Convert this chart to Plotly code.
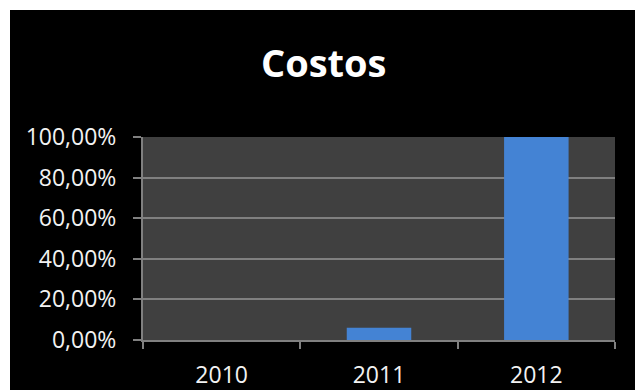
import plotly.graph_objects as go

# Data
years = ["2010", "2011", "2012"]
costos = [0.0, 0.06, 1.0]
y_ticks = [0, 0.2, 0.4, 0.6, 0.8, 1.0]

W, H = 635, 390
L, R, T, B = 143, 20, 137, 50

fig = go.Figure()
fig.add_trace(go.Bar(
    x=years,
    y=costos,
    marker=dict(color="#4483d4", line=dict(width=0)),
))

grey = "#808080"
fig.update_layout(
    width=W, height=H,
    margin=dict(l=L, r=R, t=T, b=B, pad=0, autoexpand=False),
    paper_bgcolor="black",
    plot_bgcolor="#404040",
    separators=",.",
    bargap=0.59,
    showlegend=False,
    font=dict(family="Open Sans", color="#f2f2f2", size=23),
    title=dict(
        text="<b>Costos</b>",
        font=dict(family="Open Sans", size=38, color="white"),
        x=323.7 / W, xanchor="center", xref="container",
        y=1 - 64 / H, yanchor="middle", yref="container",
    ),
    xaxis=dict(
        type="category",
        tickson="boundaries",
        ticks="outside", ticklen=7, tickwidth=2, tickcolor=grey,
        showline=True, linecolor=grey, linewidth=2,
        showgrid=False,
        automargin=False,
        ticklabelstandoff=13,
        tickfont=dict(size=23),
    ),
    yaxis=dict(
        range=[0, 1.0],
        tickvals=y_ticks,
        tickformat=".2%",
        ticks="outside", ticklen=8, tickwidth=2, tickcolor=grey,
        showline=True, linecolor=grey, linewidth=2,
        showgrid=True, gridcolor=grey, gridwidth=2,
        zeroline=False,
        automargin=False,
        ticklabelstandoff=12,
        tickfont=dict(size=23),
    ),
)

# White border strips along the top and left edge of the canvas
pw, ph = W - L - R, H - T - B
def px_x(v):
    return (v - L) / pw
def px_y(v):
    return 1 - (v - T) / ph
for x0, y0, x1, y1 in [(0, 0, W, 10), (0, 0, 10, H)]:
    fig.add_shape(type="rect", xref="paper", yref="paper",
                  x0=px_x(x0), x1=px_x(x1), y0=px_y(y1), y1=px_y(y0),
                  fillcolor="white", line=dict(width=0), layer="above")

fig.write_html("out.html")
